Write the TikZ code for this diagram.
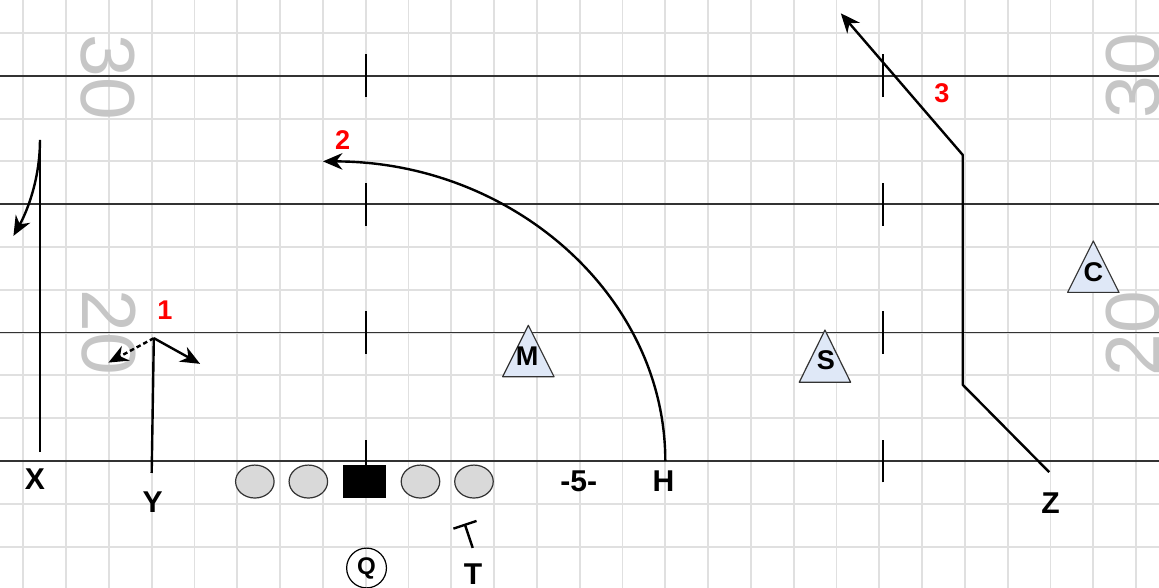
\documentclass[tikz,border=0pt]{standalone}
\usepackage{fontspec}
\setmainfont{Liberation Sans}
\usetikzlibrary{arrows.meta,shapes.geometric}
\definecolor{gridgray}{HTML}{E0E0E0}
\definecolor{yardgray}{HTML}{C6C6C6}
\definecolor{fieldline}{HTML}{333333}
\definecolor{defblue}{HTML}{DFE8F7}
\definecolor{olgray}{HTML}{D9D9D9}

\begin{document}
\begin{tikzpicture}[>={Stealth[length=13pt,width=11pt]},
  route/.style={line width=1.6pt},
  hashmark/.style={line width=1.3pt},
  yardline/.style={draw=fieldline,line width=1.1pt},
  yardnum/.style={text=yardgray,inner sep=0pt,font=\fontsize{51}{51}\selectfont},
  player/.style={inner sep=0pt,font=\bfseries\fontsize{20}{20}\selectfont},
  callout/.style={text=red,inner sep=0pt,font=\bfseries\fontsize{18}{18}\selectfont},
  lineman/.style={ellipse,draw=fieldline,fill=olgray,line width=0.8pt,minimum width=0.9cm,minimum height=0.77cm,inner sep=0pt},
  centerbox/.style={rectangle,fill=black,minimum width=1cm,minimum height=0.77cm,inner sep=0pt},
  defender/.style={draw=fieldline,fill=defblue,line width=0.8pt,line join=round},
  deflabel/.style={inner sep=0pt,font=\bfseries\fontsize{18}{18}\selectfont}]
  \useasboundingbox (-0.544,-2.967) rectangle (26.535,10.771);
  \fill[white] (-0.544,-2.967) rectangle (26.535,10.771);
  \begin{scope}
    \clip (-0.544,-2.967) rectangle (26.535,10.771);
    \draw[gridgray,line width=1.3pt] (-1,-3) grid (27,11);
    \node[yardnum,rotate=-90] (yl30) at (1.97,8.97) {30};
    \node[yardnum,rotate=-90] (yl20) at (2.0,3.0) {20};
    \node[yardnum,rotate=90] (yr30) at (25.92,9.0) {30};
    \node[yardnum,rotate=90] (yr20) at (25.92,2.97) {20};
    \foreach \y in {0,3,6,9}
      \draw[yardline] (-1,\y) -- (27,\y);
  \end{scope}
  \foreach \hx in {8,20.08}
    \foreach \y in {0,3,6,9}
      \draw[hashmark] ({\hx},{\y-0.5}) -- ({\hx},{\y+0.5});

  \node[lineman] (lt) at (5.41,-0.48) {};
  \node[lineman] (lg) at (6.66,-0.48) {};
  \node[centerbox] (ctr) at (7.97,-0.48) {};
  \node[lineman] (rg) at (9.28,-0.48) {};
  \node[lineman] (rt) at (10.53,-0.48) {};
  \node[circle,draw,line width=0.8pt,minimum size=0.93cm,inner sep=0pt,font=\bfseries\fontsize{16}{16}\selectfont] (Q) at (8.02,-2.5) {Q};

  \node[player] (X) at (0.27,-0.43) {X};
  \node[player] (Y) at (3.02,-0.96) {Y};
  \node[player] (five) at (12.98,-0.47) {-5-};
  \node[player] (H) at (14.96,-0.48) {H};
  \node[player] (Z) at (24.0,-0.99) {Z};
  \node[player] (T) at (10.51,-2.64) {T};

  \draw[defender] (11.2,1.97) -- (11.8,3.17) -- (12.4,1.97) -- cycle;
  \node[deflabel] (M) at (11.77,2.44) {M};
  \draw[defender] (18.13,1.84) -- (18.73,3.06) -- (19.33,1.84) -- cycle;
  \node[deflabel] (S) at (18.75,2.36) {S};
  \draw[defender] (24.4,3.94) -- (25.0,5.14) -- (25.6,3.94) -- cycle;
  \node[deflabel] (C) at (25.0,4.42) {C};

  \coordinate (Xs) at (0.39,0.21);
  \coordinate (Xt) at (0.39,7.5);
  \coordinate (Xe) at (-0.23,5.26);
  \draw[route] (Xs) -- (Xt);
  \draw[route,->] (Xt) .. controls (0.39,6.6) and (0.1,5.85) .. (Xe);

  \coordinate (Ys) at (3.0,-0.28);
  \coordinate (Yt) at (3.05,2.87);
  \coordinate (Yo) at (4.13,2.27);
  \coordinate (Yi) at (1.99,2.30);
  \draw[route] (Ys) -- (Yt);
  \draw[route,->] (Yt) -- (Yo);
  \draw[route,->,densely dashed] (Yt) -- (Yi);
  \node[callout] (one) at (3.31,3.53) {1};

  \coordinate (Hs) at (15,0);
  \draw[route,->] (Hs) arc[start angle=0,end angle=90,x radius=8,y radius=7];
  \node[callout] (two) at (7.46,7.5) {2};

  \coordinate (Zs) at (23.97,-0.26);
  \coordinate (Za) at (21.95,1.78);
  \coordinate (Zb) at (21.95,7.15);
  \coordinate (Ze) at (19.1,10.46);
  \draw[route,->] (Zs) -- (Za) -- (Zb) -- (Ze);
  \node[callout] (three) at (21.46,8.59) {3};

  \coordinate (Tb) at (10.50,-2.03);
  \coordinate (Tt) at (10.32,-1.49);
  \coordinate (Tl) at (10.05,-1.58);
  \coordinate (Tr) at (10.59,-1.40);
  \draw[route] (Tb) -- (Tt);
  \draw[route] (Tl) -- (Tr);
\end{tikzpicture}
\end{document}
